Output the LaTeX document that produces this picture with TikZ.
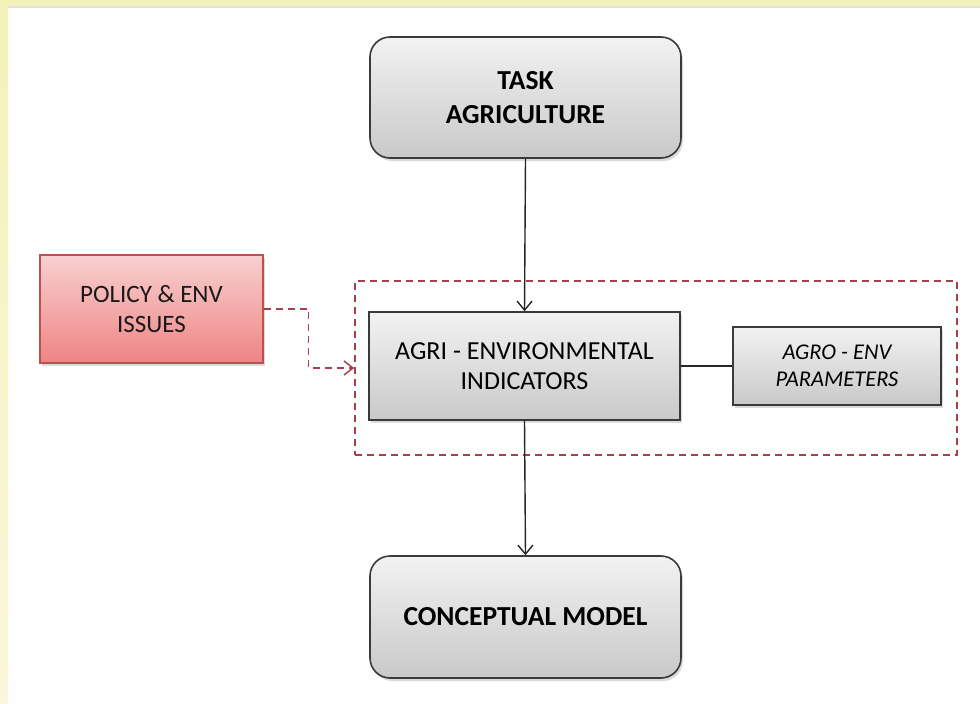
\documentclass[tikz,border=0pt]{standalone}
\usepackage{fontspec}
\setmainfont{Carlito}
\usetikzlibrary{arrows.meta,shadows,positioning}

\definecolor{frameyellow}{HTML}{F3F2B8}
\definecolor{frameyellowlight}{HTML}{FBF6DC}
\definecolor{boxedge}{HTML}{3A3A3A}
\definecolor{greytop}{HTML}{F2F2F2}
\definecolor{greybot}{HTML}{C9C9C9}
\definecolor{pinktop}{HTML}{F9D0D0}
\definecolor{pinkbot}{HTML}{EE8484}
\definecolor{pinkedge}{HTML}{C0504D}
\definecolor{groupred}{HTML}{A8404C}

\tikzset{
  softshadow/.style={drop shadow={opacity=0.28, shadow xshift=2pt, shadow yshift=-3pt}},
  greybox/.style={draw=boxedge, line width=1.6pt, top color=greytop, bottom color=greybot,
    align=center, inner sep=0pt, softshadow, text=black},
  roundbox/.style={greybox, rounded corners=20pt},
  pinkbox/.style={draw=pinkedge, line width=1.2pt, top color=pinktop, bottom color=pinkbot,
    align=center, inner sep=0pt, softshadow, text=black!90},
  grouping/.style={draw=groupred, dashed, dash pattern=on 7pt off 5pt, line width=1.5pt,
    inner sep=0pt},
  link/.style={draw=black!85, line width=1.4pt},
  flow/.style={link, -{Straight Barb[length=9pt,width=15pt,line width=1.4pt]}},
  dashflow/.style={draw=groupred, line width=1.5pt, dash pattern=on 7pt off 5pt,
    -{Straight Barb[length=9pt,width=14pt,line width=1.5pt]}},
  bigbold/.style={font=\fontsize{27.5}{34}\selectfont\bfseries},
  plain/.style={font=\fontsize{26}{30}\selectfont},
  policytext/.style={font=\fontsize{25}{30}\selectfont},
  smallital/.style={font=\fontsize{22.5}{27}\selectfont\itshape},
}

\begin{document}
\begin{tikzpicture}[x=1pt,y=-1pt]
  \useasboundingbox (0,0) rectangle (980,704);
  % page background with the pale yellow frame on the top and left
  \fill[white] (0,0) rectangle (980,704);
  \fill[top color=frameyellow, bottom color=frameyellowlight] (0,0) rectangle (8,704);
  \fill[frameyellow] (0,0) rectangle (980,6);
  \fill[black!12] (8,6) rectangle (980,7.5);

  % dashed grouping frame around the indicator block
  \node[grouping, minimum width=602pt, minimum height=174pt] (group) at (656,368) {};

  % boxes
  \node[roundbox, bigbold, minimum width=311pt, minimum height=121pt] (task) at (525.5,97.5)
    {TASK\\AGRICULTURE};
  \node[greybox, plain, minimum width=311pt, minimum height=108pt] (agri) at (524.5,366)
    {AGRI - ENVIRONMENTAL\\INDICATORS};
  \node[greybox, smallital, minimum width=208pt, minimum height=78pt] (agro) at (837,366)
    {AGRO - ENV\\PARAMETERS};
  \node[pinkbox, policytext, minimum width=223pt, minimum height=108pt] (policy) at (151.5,309)
    {POLICY \& ENV\\ISSUES};
  \node[roundbox, bigbold, minimum width=311pt, minimum height=122pt] (model) at (525.5,617)
    {CONCEPTUAL MODEL};

  % connectors
  \draw[flow] (task.south) -- (agri.north);
  \draw[flow] (agri.south) -- (model.north);
  \draw[link] (agri.east) -- (agro.west);
  \draw[dashflow] (policy.east) -- ++(45,0) |- (group.west);
\end{tikzpicture}
\end{document}
